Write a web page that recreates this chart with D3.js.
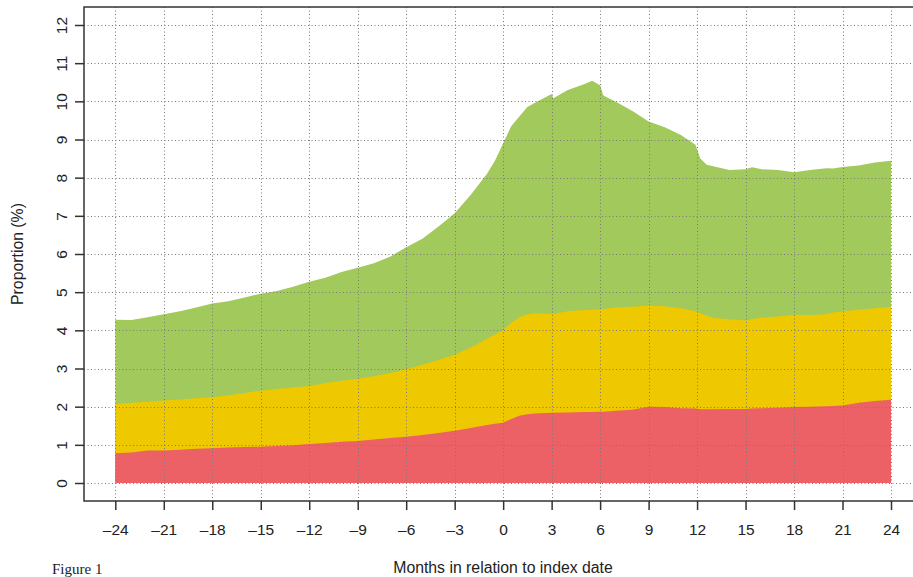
<!DOCTYPE html>
<html>
<head>
<meta charset="utf-8">
<script src="https://cdn.jsdelivr.net/npm/d3@7"></script>
<style>
  body { margin: 0; background: #fff; }
  svg { display: block; }
  text { font-family: "Liberation Sans", Arial, sans-serif; fill: #222; }
</style>
</head>
<body>
<div id="chart"></div>
<script>
// months relative to index date (a few extra points where the curves turn sharply)
const months = [-24, -23, -22, -21, -20, -19, -18, -17, -16, -15, -14, -13, -12, -11, -10, -9, -8, -7, -6, -5, -4, -3, -2, -1,
  -0.5, 0, 0.5, 1, 1.5, 2, 3, 3.1, 4, 5, 5.5, 6, 6.2, 7, 8, 9, 10, 11, 11.9, 12.2, 12.6, 13, 14, 15, 15.4, 16, 17, 18, 19, 20, 20.4, 21, 22, 23, 24];

// upper edge of each band (%)
const greenTop = [4.28, 4.27, 4.34, 4.42, 4.5, 4.6, 4.7, 4.76, 4.86, 4.96, 5.03, 5.14, 5.27, 5.38, 5.53, 5.64, 5.76, 5.93, 6.18, 6.4, 6.72, 7.07, 7.55, 8.1,
  8.45, 8.9, 9.35, 9.6, 9.85, 9.97, 10.19, 10.08, 10.3, 10.45, 10.54, 10.42, 10.15, 9.98, 9.75, 9.47, 9.32, 9.12, 8.86, 8.5, 8.34, 8.3, 8.2, 8.22, 8.27, 8.22, 8.2, 8.14, 8.2, 8.25, 8.24, 8.28, 8.32, 8.4, 8.44];
const yellowTop = [2.07, 2.1, 2.13, 2.16, 2.19, 2.22, 2.25, 2.3, 2.36, 2.42, 2.46, 2.5, 2.54, 2.62, 2.68, 2.73, 2.8, 2.88, 2.98, 3.1, 3.22, 3.36, 3.55, 3.78,
  3.9, 4.01, 4.2, 4.34, 4.42, 4.45, 4.43, 4.43, 4.5, 4.53, 4.54, 4.55, 4.56, 4.6, 4.62, 4.65, 4.63, 4.58, 4.5, 4.45, 4.38, 4.32, 4.29, 4.26, 4.3, 4.33, 4.36, 4.41, 4.4, 4.42, 4.47, 4.5, 4.54, 4.58, 4.62];
const redTop = [0.78, 0.8, 0.85, 0.85, 0.87, 0.9, 0.91, 0.93, 0.94, 0.95, 0.97, 0.99, 1.02, 1.05, 1.08, 1.1, 1.14, 1.18, 1.21, 1.26, 1.31, 1.37, 1.44, 1.52,
  1.55, 1.58, 1.68, 1.76, 1.8, 1.82, 1.84, 1.84, 1.85, 1.86, 1.86, 1.87, 1.87, 1.89, 1.92, 2.0, 1.99, 1.96, 1.95, 1.93, 1.93, 1.93, 1.94, 1.94, 1.95, 1.96, 1.97, 1.99, 2.0, 2.01, 2.02, 2.03, 2.1, 2.15, 2.18];

const xTicks = d3.range(-24, 25, 3);
const yTicks = d3.range(0, 13, 1);

function drawChart() {
  let width = 913, height = 577;
  // plot box (right edge runs off the page as in the original)
  let box = { left: 84, top: 7, right: 916, bottom: 501 };

  var x = d3.scaleLinear().domain([-24, 24]).range([115.3, 891]);
  var y = d3.scaleLinear().domain([0, 12]).range([483, 25]);

  var svg = d3.select("#chart").append("svg")
    .attr("width", width)
    .attr("height", height);

  // bands, painted back to front
  const bands = [
    { top: greenTop, color: "#a2c95b" },
    { top: yellowTop, color: "#eec800" },
    { top: redTop, color: "#ec6165" }
  ];
  bands.forEach(function (b) {
    var area = d3.area()
      .x(function (d, i) { return x(months[i]); })
      .y0(y(0))
      .y1(function (d) { return y(d); });
    svg.append("path")
      .datum(b.top)
      .attr("fill", b.color)
      .attr("d", area);
  });

  // dotted grid on top of the fills
  var grid = svg.append("g")
    .attr("stroke", "#7a7a7a")
    .attr("stroke-width", 1)
    .attr("stroke-dasharray", "1,2.5");
  grid.selectAll(".vg")
    .data(xTicks)
    .enter().append("line")
    .attr("x1", function (d) { return Math.round(x(d)) + 0.5; })
    .attr("x2", function (d) { return Math.round(x(d)) + 0.5; })
    .attr("y1", box.top)
    .attr("y2", box.bottom);
  grid.selectAll(".hg")
    .data(yTicks)
    .enter().append("line")
    .attr("x1", box.left)
    .attr("x2", box.right)
    .attr("y1", function (d) { return Math.round(y(d)) + 0.5; })
    .attr("y2", function (d) { return Math.round(y(d)) + 0.5; });

  // box
  svg.append("rect")
    .attr("x", box.left)
    .attr("y", box.top)
    .attr("width", box.right - box.left)
    .attr("height", box.bottom - box.top)
    .attr("fill", "none")
    .attr("stroke", "#333")
    .attr("stroke-width", 1.5);

  // x axis
  var xAxis = svg.append("g")
    .attr("transform", "translate(0," + box.bottom + ")")
    .call(d3.axisBottom(x).tickValues(xTicks).tickSize(9).tickPadding(14)
      .tickFormat(function (d) { return d < 0 ? "\u2013" + Math.abs(d) : d; }));
  xAxis.select(".domain").remove();
  xAxis.selectAll("line").attr("stroke", "#333").attr("stroke-width", 1.5);
  xAxis.selectAll("text").attr("font-size", 15.5).attr("font-family", "Liberation Sans, Arial, sans-serif").attr("fill", "#222");

  // y axis (labels rotated like R's las=0)
  var yAxis = svg.append("g")
    .attr("transform", "translate(" + box.left + ",0)")
    .call(d3.axisLeft(y).tickValues(yTicks).tickSize(9).tickFormat(function (d) { return d; }));
  yAxis.select(".domain").remove();
  yAxis.selectAll("line").attr("stroke", "#333").attr("stroke-width", 1.5);
  yAxis.selectAll("text")
    .attr("font-size", 15.5)
    .attr("font-family", "Liberation Sans, Arial, sans-serif")
    .attr("fill", "#222")
    .attr("text-anchor", "middle")
    .attr("dy", null)
    .attr("x", null)
    .attr("transform", "translate(-23,0) rotate(-90)")
    .attr("dominant-baseline", "central");

  // titles
  svg.append("text")
    .attr("x", 503)
    .attr("y", 573)
    .attr("text-anchor", "middle")
    .attr("font-size", 15.8)
    .text("Months in relation to index date");

  svg.append("text")
    .attr("transform", "translate(23,254) rotate(-90)")
    .attr("text-anchor", "middle")
    .attr("font-size", 15.8)
    .text("Proportion (%)");

  svg.append("text")
    .attr("x", 52)
    .attr("y", 574)
    .attr("font-size", 15)
    .style("font-family", "'Liberation Serif', 'Times New Roman', serif")
    .text("Figure 1");
}

drawChart();
</script>
</body>
</html>
